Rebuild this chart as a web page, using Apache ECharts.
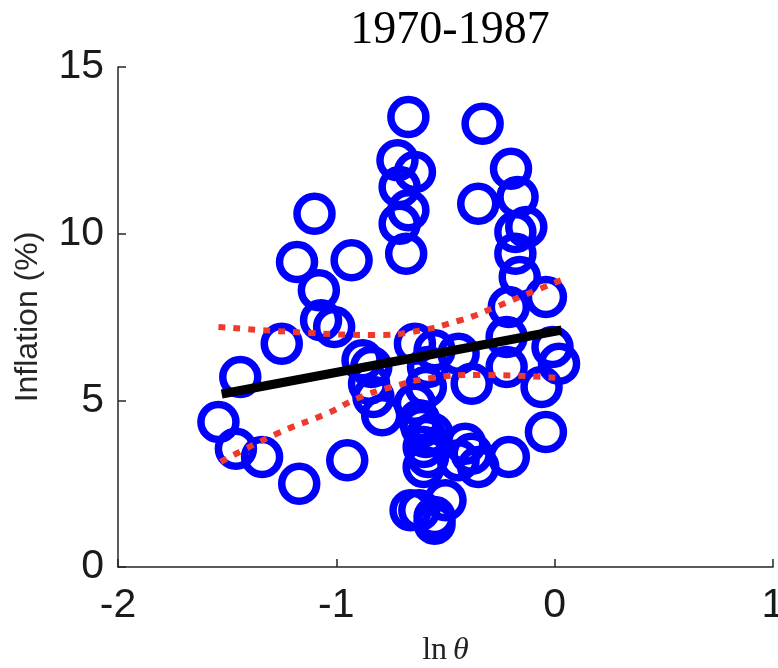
<!DOCTYPE html>
<html>
<head>
<meta charset="utf-8">
<script src="https://cdn.jsdelivr.net/npm/echarts@6/dist/echarts.min.js"></script>
<style>
  html, body { margin: 0; padding: 0; background: #fff; }
  #chart { width: 778px; height: 668px; }
</style>
</head>
<body>
<div id="chart"></div>
<script>
// ln(theta) vs inflation, 1970-1987
const scatterPoints = [
  [-0.67, 13.5], [-0.33, 13.3], [-0.72, 12.2], [-0.64, 11.85], [-0.71, 11.4],
  [-0.20, 11.95], [-0.17, 11.1], [-0.35, 10.9], [-1.10, 10.6], [-0.67, 10.7],
  [-0.71, 10.3], [-0.13, 10.2], [-0.18, 10.05], [-0.18, 9.4], [-0.68, 9.4],
  [-1.18, 9.15], [-0.93, 9.2], [-0.16, 8.7], [-1.08, 8.3], [-0.04, 8.1],
  [-0.21, 7.8],
  [-1.07, 7.4], [-1.01, 7.2], [-1.25, 6.7], [-1.44, 5.7], [-1.54, 4.35],
  [-1.46, 3.55], [-1.34, 3.3], [-1.17, 2.5], [-0.95, 3.2],
  [-0.88, 6.2], [-0.84, 6.0], [-0.85, 5.5], [-0.83, 5.1], [-0.79, 4.55],
  [-0.64, 6.7], [-0.55, 6.5], [-0.44, 6.4], [-0.58, 6.0], [-0.59, 5.4],
  [-0.38, 5.5], [-0.22, 6.9], [-0.01, 6.6], [0.02, 6.1], [-0.22, 6.0],
  [-0.06, 5.4], [-0.04, 4.05],
  [-0.21, 3.3], [-0.41, 3.7], [-0.38, 3.4], [-0.35, 3.0], [-0.44, 3.2],
  [-0.64, 4.9], [-0.62, 4.4], [-0.61, 4.2], [-0.59, 3.9], [-0.60, 3.6],
  [-0.58, 3.3], [-0.60, 3.0], [-0.56, 4.0],
  [-0.62, 1.7], [-0.55, 1.5], [-0.50, 2.0], [-0.55, 1.3], [-0.66, 1.7]
];

// fitted line
const fitLine = [[-1.525, 5.19], [0.032, 7.11]];

// confidence bands
const upperBand = [
  [-1.54, 7.2], [-1.115, 7.02], [-0.82, 6.96], [-0.656, 7.05],
  [-0.427, 7.41], [-0.27, 7.8], [-0.105, 8.25], [0.032, 8.61]
];
const lowerBand = [
  [-1.53, 3.15], [-1.266, 4.02], [-1.037, 4.62], [-0.9, 5.07],
  [-0.748, 5.4], [-0.564, 5.67], [-0.349, 5.76], [0.018, 5.67]
];

const xTicks = [-2, -1, 0, 1];
const yTicks = [0, 5, 10, 15];

const chart = echarts.init(document.getElementById("chart"));

const axisColor = "#262626";
const bandStyle = {
  color: "#ee3a2c",
  width: 6,
  type: [7, 8],
  cap: "butt",
};

chart.setOption({
  animation: false,
  title: {
    text: "1970-1987",
    left: 445,
    top: 3,
    textAlign: "center",
    textStyle: {
      fontFamily: "Liberation Serif",
      fontWeight: "normal",
      fontSize: 46,
      color: "#000",
    },
  },
  grid: {
    left: 118,
    right: 5,
    top: 67,
    bottom: 101,
    outerBoundsMode: "none",
  },
  xAxis: {
    type: "value",
    min: xTicks[0],
    max: xTicks[xTicks.length - 1],
    interval: 1,
    splitLine: { show: false },
    axisLine: { onZero: false, lineStyle: { color: axisColor, width: 1.5 } },
    axisTick: { inside: true, length: 8, lineStyle: { color: axisColor, width: 1.5 } },
    axisLabel: {
      color: "#1a1a1a",
      fontFamily: "Liberation Sans",
      fontSize: 41,
      margin: 18,
      showMaxLabel: true,
      showMinLabel: true,
    },
    name: "{a|ln}{b|θ}",
    nameLocation: "middle",
    nameGap: 68,
    nameTextStyle: {
      rich: {
        a: { fontFamily: "Liberation Serif", fontSize: 32, color: "#222", padding: [0, 6, 0, 0] },
        b: { fontFamily: "Liberation Serif", fontStyle: "italic", fontSize: 32, color: "#222" },
      },
    },
  },
  yAxis: {
    type: "value",
    min: yTicks[0],
    max: yTicks[yTicks.length - 1],
    interval: 5,
    splitLine: { show: false },
    axisLine: { onZero: false, lineStyle: { color: axisColor, width: 1.5 } },
    axisTick: { inside: true, length: 8, lineStyle: { color: axisColor, width: 1.5 } },
    axisLabel: {
      color: "#1a1a1a",
      fontFamily: "Liberation Sans",
      fontSize: 41,
      margin: 14,
    },
    name: "Inflation (%)",
    nameLocation: "middle",
    nameGap: 74,
    nameTextStyle: {
      fontFamily: "Liberation Sans",
      fontSize: 32,
      color: "#262626",
    },
  },
  series: [
    {
      type: "scatter",
      data: scatterPoints,
      symbol: "circle",
      symbolSize: 35,
      itemStyle: {
        color: "rgba(0,0,0,0)",
        borderColor: "#0000ff",
        borderWidth: 7.5,
        opacity: 1,
      },
    },
    {
      type: "line",
      data: fitLine,
      showSymbol: false,
      lineStyle: { color: "#000", width: 9 },
    },
    {
      type: "line",
      data: upperBand,
      smooth: true,
      showSymbol: false,
      lineStyle: bandStyle,
    },
    {
      type: "line",
      data: lowerBand,
      smooth: true,
      showSymbol: false,
      lineStyle: bandStyle,
    },
  ],
});
</script>
</body>
</html>
